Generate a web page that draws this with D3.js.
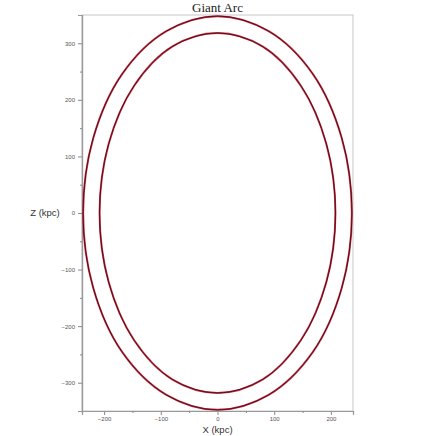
<!DOCTYPE html>
<html>
<head>
<meta charset="utf-8">
<script src="https://cdn.jsdelivr.net/npm/d3@7"></script>
<style>
  body { margin: 0; background: #fff; }
</style>
</head>
<body>
<script>
// ring outlines (kpc)
var outerX = [237, 219, 168, 91, 0, -91, -168, -219, -237, -219, -168, -91, 0, 91, 168, 219];
var outerZ = [0, 133, 246, 321, 348, 321, 246, 133, 0, -133, -246, -321, -348, -321, -246, -133];
var innerX = [208, 192, 147, 80, 0, -80, -147, -192, -208, -192, -147, -80, 0, 80, 147, 192];
var innerZ = [0, 122, 225, 294, 318, 294, 225, 122, 0, -122, -225, -294, -318, -294, -225, -122];

var xMajor = [-200, -100, 0, 100, 200];
var xMinor = [-150, -50, 50, 150];
var zMajor = [-300, -200, -100, 0, 100, 200, 300];
var zMinor = [-250, -150, -50, 50, 150, 250];

var width = 436, height = 436;
var margin = {top: 15, right: 83, bottom: 25, left: 82};

var svg = d3.select("body").append("svg")
    .attr("width", width)
    .attr("height", height);

var x = d3.scaleLinear()
    .domain([-239, 239])
    .range([margin.left, width - margin.right]);

var y = d3.scaleLinear()
    .domain([-350, 350])
    .range([height - margin.bottom, margin.top]);

// frame
svg.append("rect")
    .attr("x", x(-239))
    .attr("y", y(350))
    .attr("width", x(239) - x(-239))
    .attr("height", y(-350) - y(350))
    .attr("fill", "none")
    .attr("stroke", "#c8c8c8")
    .attr("stroke-width", 1);

// x axis
svg.append("g")
    .attr("transform", "translate(0," + y(-350) + ")")
    .call(d3.axisBottom(x).tickValues(xMajor).tickSize(4).tickPadding(2));
svg.append("g")
    .attr("transform", "translate(0," + y(-350) + ")")
    .call(d3.axisBottom(x).tickValues(xMinor).tickSize(2).tickFormat(""));

// z axis
svg.append("g")
    .attr("transform", "translate(" + x(-239) + ",0)")
    .call(d3.axisLeft(y).tickValues(zMajor).tickSize(4).tickPadding(3));
svg.append("g")
    .attr("transform", "translate(" + x(-239) + ",0)")
    .call(d3.axisLeft(y).tickValues(zMinor).tickSize(2).tickFormat(""));

svg.selectAll(".domain").attr("stroke", "#999").attr("stroke-width", 1.2);
svg.selectAll(".tick line").attr("stroke", "#888");
svg.selectAll(".tick text")
    .attr("fill", "#555")
    .attr("font-family", "Liberation Sans, Arial, sans-serif")
    .attr("font-size", 6);

// rings
var line = d3.line()
    .x(function(d) { return x(d[0]); })
    .y(function(d) { return y(d[1]); })
    .curve(d3.curveCatmullRomClosed);

var rings = [
  d3.zip(outerX, outerZ),
  d3.zip(innerX, innerZ)
];

svg.append("g").selectAll("path")
  .data(rings)
  .enter().append("path")
    .attr("d", line)
    .attr("fill", "none")
    .attr("stroke", "#c23a4e")
    .attr("stroke-width", 2);

svg.append("g").selectAll("path")
  .data(rings)
  .enter().append("path")
    .attr("d", line)
    .attr("fill", "none")
    .attr("stroke", "#5a0a14")
    .attr("stroke-width", 1);

// title and labels
svg.append("text")
    .attr("x", x(0))
    .attr("y", 12)
    .attr("text-anchor", "middle")
    .attr("font-family", "Liberation Serif, Times New Roman, serif")
    .attr("font-size", 13)
    .attr("fill", "#222")
    .text("Giant Arc");

svg.append("text")
    .attr("x", x(0))
    .attr("y", 433)
    .attr("text-anchor", "middle")
    .attr("font-family", "Liberation Sans, Arial, sans-serif")
    .attr("font-size", 9.5)
    .attr("fill", "#333")
    .text("X (kpc)");

svg.append("text")
    .attr("x", 45)
    .attr("y", y(0) + 3)
    .attr("text-anchor", "middle")
    .attr("font-family", "Liberation Sans, Arial, sans-serif")
    .attr("font-size", 9.5)
    .attr("fill", "#333")
    .text("Z (kpc)");
</script>
</body>
</html>
